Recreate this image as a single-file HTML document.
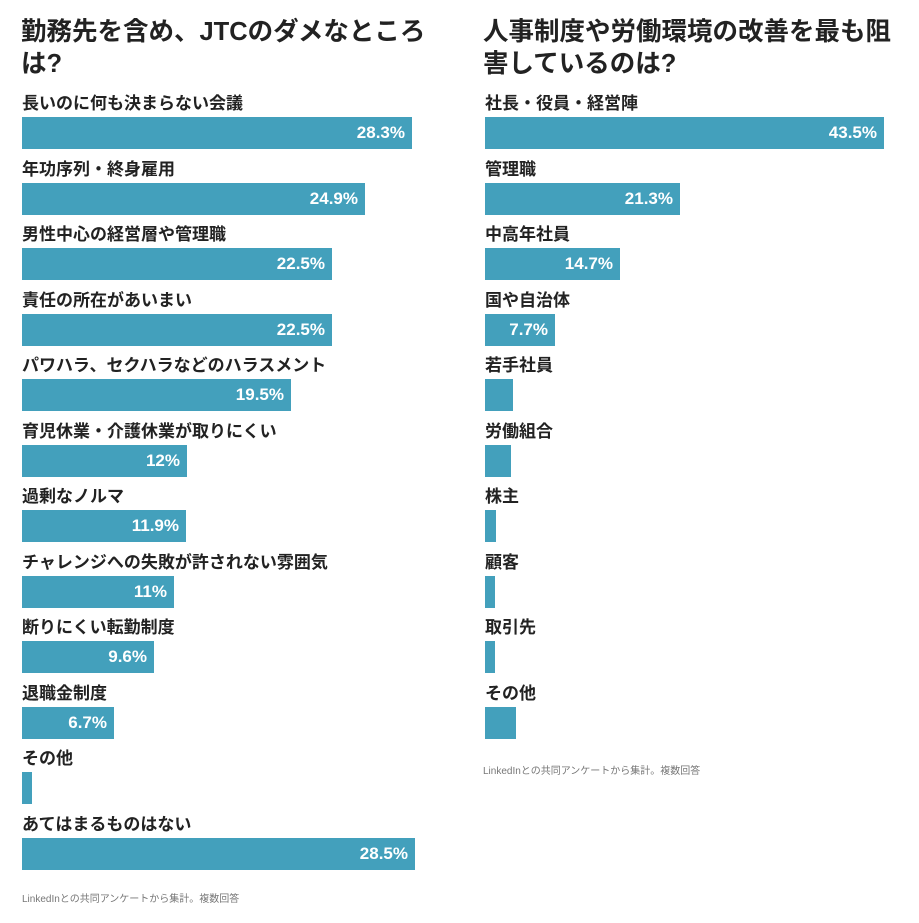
<!DOCTYPE html>
<html><head><meta charset="utf-8"><style>
body{margin:0;width:919px;height:923px;background:#fff;font-family:"Liberation Sans","Noto Sans CJK JP",sans-serif;position:relative;overflow:hidden;color:#222}
.t{position:absolute;font-size:25.5px;font-weight:bold;line-height:32px;width:420px;color:#222}
.l{position:absolute;font-size:17px;font-weight:bold;line-height:20px;white-space:nowrap;color:#222}
.b{position:absolute;height:32px;background:#43a0bc;color:#fff;font-weight:bold;font-size:17px;line-height:32px;text-align:right;box-sizing:border-box;padding-right:7px}
.f{position:absolute;font-size:10px;color:#777;white-space:nowrap}
</style></head><body>
<div class="t" style="left:21px;top:16px">勤務先を含め、JTCのダメなところは?</div>
<div class="t" style="left:483px;top:16px">人事制度や労働環境の改善を最も阻害しているのは?</div>
<div id="L"></div><div id="R"></div>
<div class="f" style="left:22px;top:890px">LinkedInとの共同アンケートから集計。複数回答</div>
<div class="f" style="left:483px;top:762px">LinkedInとの共同アンケートから集計。複数回答</div>
<script>
var L=[["長いのに何も決まらない会議",390,"28.3%"],["年功序列・終身雇用",343,"24.9%"],["男性中心の経営層や管理職",310,"22.5%"],["責任の所在があいまい",310,"22.5%"],["パワハラ、セクハラなどのハラスメント",269,"19.5%"],["育児休業・介護休業が取りにくい",165,"12%"],["過剰なノルマ",164,"11.9%"],["チャレンジへの失敗が許されない雰囲気",152,"11%"],["断りにくい転勤制度",132,"9.6%"],["退職金制度",92,"6.7%"],["その他",10,""],["あてはまるものはない",393,"28.5%"]];
var R=[["社長・役員・経営陣",399,"43.5%"],["管理職",195,"21.3%"],["中高年社員",135,"14.7%"],["国や自治体",70,"7.7%"],["若手社員",28,""],["労働組合",26,""],["株主",11,""],["顧客",10,""],["取引先",10,""],["その他",31,""]];
function draw(a,x){var h="";a.forEach(function(r,i){var y=117+i*65.5;h+='<div class="l" style="left:'+x+'px;top:'+(y-23)+'px">'+r[0]+'</div><div class="b" style="left:'+x+'px;top:'+y+'px;width:'+r[1]+'px">'+r[2]+'</div>';});return h;}
document.getElementById("L").innerHTML=draw(L,22);
document.getElementById("R").innerHTML=draw(R,485);
</script>
</body></html>
